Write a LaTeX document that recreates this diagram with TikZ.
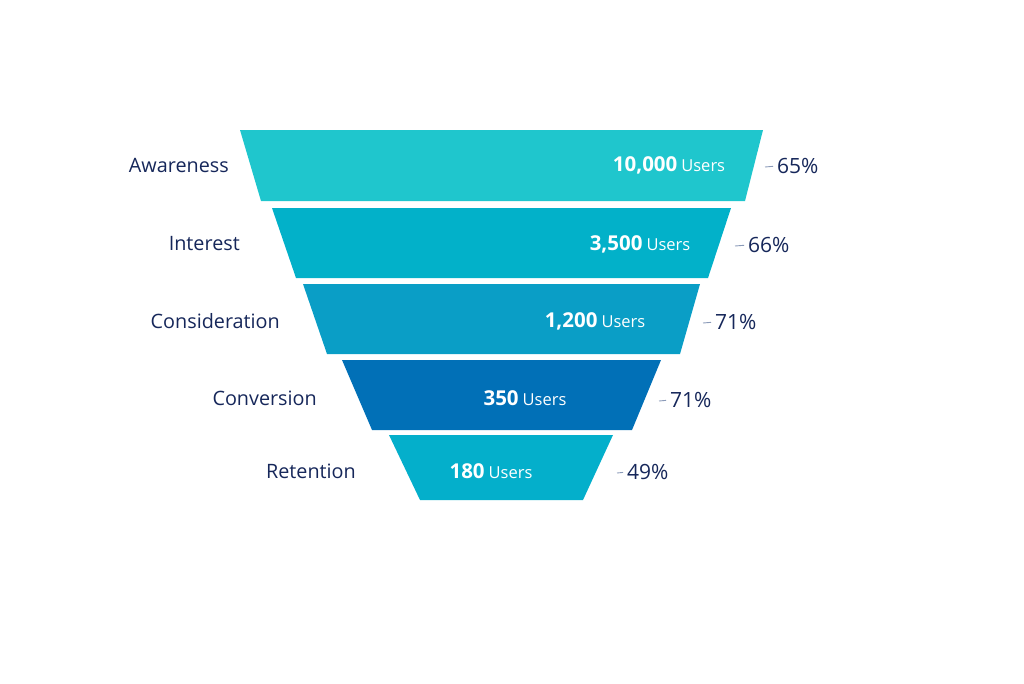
\documentclass[tikz,border=0pt]{standalone}
\usepackage{fontspec}
\setmainfont{Open Sans}
\definecolor{navy}{HTML}{16275A}
\definecolor{dashc}{HTML}{8A9AB8}
\definecolor{cA}{HTML}{1FC6CD}
\definecolor{cB}{HTML}{02B1C9}
\definecolor{cC}{HTML}{0A9EC6}
\definecolor{cD}{HTML}{0170B7}
\definecolor{cE}{HTML}{04AFCB}
\tikzset{
  stagelabel/.style={anchor=east,inner sep=0pt,text=navy,font=\fontsize{19.8}{23}\selectfont},
  pct/.style={anchor=west,inner sep=0pt,text=navy,font=\fontsize{21}{24}\selectfont},
  val/.style={inner sep=0pt,text=white},
  tick/.style={draw=dashc,line width=0.9pt,shorten >=4pt},
}
\newcommand{\valtxt}[1]{{\fontsize{20.5}{24}\selectfont\bfseries #1}\hspace{4pt}{\fontsize{16.5}{20}\selectfont Users}}
\begin{document}
\begin{tikzpicture}[x=1pt,y=-1pt]
\useasboundingbox (0,0) rectangle (1024,683);
% bands
\fill[cA] (240,130) -- (763,130) -- (745,201) -- (261,201) -- cycle;
\fill[cB] (272,208) -- (731,208) -- (708,278) -- (296,278) -- cycle;
\fill[cC] (303,284) -- (700,284) -- (680,354) -- (327,354) -- cycle;
\fill[cD] (342,360) -- (661,360) -- (632,430) -- (372,430) -- cycle;
\fill[cE] (389,435) -- (613,435) -- (583,500) -- (420,500) -- cycle;
% values
\node[val] (v1) at (669,165) {\valtxt{10,000}};
\node[val] (v2) at (640,244) {\valtxt{3,500}};
\node[val] (v3) at (595,321) {\valtxt{1,200}};
\node[val] (v4) at (525,398) {\valtxt{350}};
\node[val] (v5) at (491,471) {\valtxt{180}};
% stage labels
\node[stagelabel] (s1) at (229,165) {Awareness};
\node[stagelabel] (s2) at (240,244) {Interest};
\node[stagelabel] (s3) at (280,321) {Consideration};
\node[stagelabel] (s4) at (317,398) {Conversion};
\node[stagelabel] (s5) at (356,471) {Retention};
% percentages
\node[pct] (p1) at (777,166) {65\%};
\node[pct] (p2) at (748,245) {66\%};
\node[pct] (p3) at (715,322) {71\%};
\node[pct] (p4) at (670,400) {71\%};
\node[pct] (p5) at (627,472) {49\%};
\coordinate (d1) at (765,167); \draw[tick] (d1) -- (p1.west);
\coordinate (d2) at (735,246); \draw[tick] (d2) -- (p2.west);
\coordinate (d3) at (703,323); \draw[tick] (d3) -- (p3.west);
\coordinate (d4) at (659,401); \draw[tick] (d4) -- (p4.west);
\coordinate (d5) at (617,473); \draw[tick] (d5) -- (p5.west);
\end{tikzpicture}
\end{document}
